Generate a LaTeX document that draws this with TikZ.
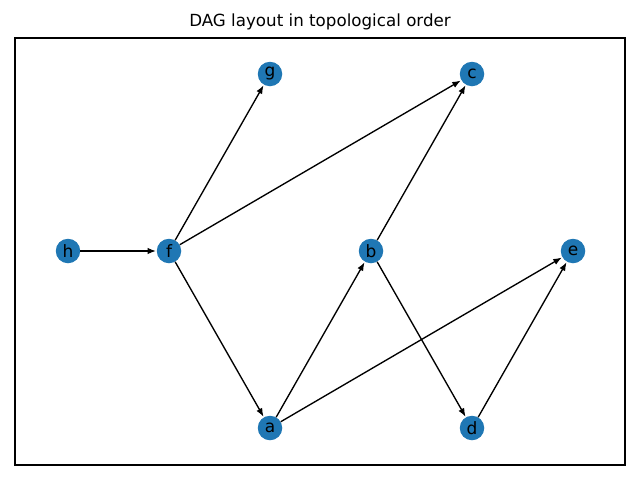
\documentclass[tikz,border=0pt]{standalone}
\usepackage{fontspec}
\setmainfont{DejaVu Sans}
\usetikzlibrary{arrows.meta}
\definecolor{tabblue}{HTML}{1F77B4}
\begin{document}
\begin{tikzpicture}[x=1pt,y=-1pt,
  vtx/.style={circle,fill=tabblue,minimum size=24.5pt,inner sep=0pt,font=\fontsize{17}{19}\selectfont},
  edge/.style={line width=1.35pt,-{Latex[length=8.5pt,width=6.5pt]},shorten >=0.5pt}]
\useasboundingbox (0,0) rectangle (640,480);
\draw[line width=1.1pt] (15,38) rectangle (625,465);
\node[font=\fontsize{16.7}{19}\selectfont] (title) at (320,22) {DAG layout in topological order};
\node[vtx] (h) at (68,251) {h};
\node[vtx] (f) at (169,251) {f};
\node[vtx] (g) at (270,74) {g};
\node[vtx] (a) at (270,428) {a};
\node[vtx] (b) at (371,251) {b};
\node[vtx] (c) at (472,74) {c};
\node[vtx] (d) at (472,428) {d};
\node[vtx] (e) at (573,251) {e};
\draw[edge] (h) -- (f);
\draw[edge] (f) -- (g);
\draw[edge] (f) -- (c);
\draw[edge] (f) -- (a);
\draw[edge] (a) -- (b);
\draw[edge] (a) -- (e);
\draw[edge] (b) -- (c);
\draw[edge] (b) -- (d);
\draw[edge] (d) -- (e);
\end{tikzpicture}
\end{document}
